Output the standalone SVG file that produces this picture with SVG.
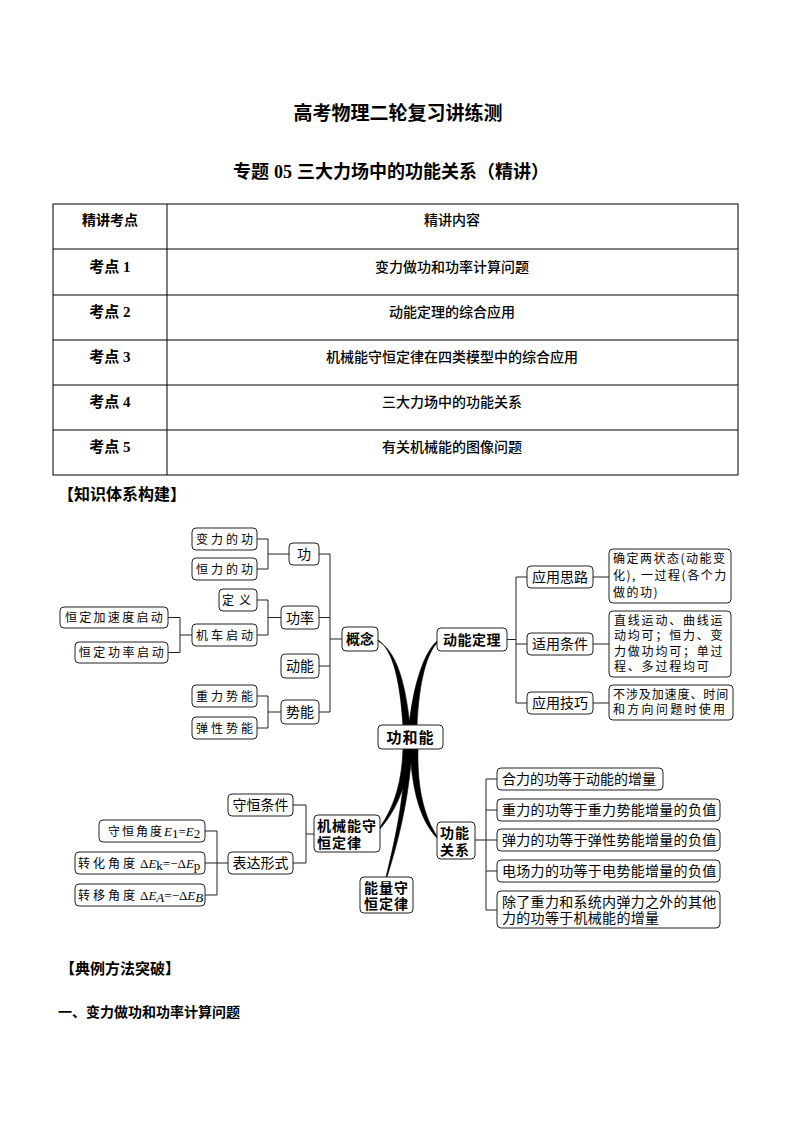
<svg xmlns="http://www.w3.org/2000/svg" width="794" height="1123" viewBox="0 0 794 1123">
<style>
.cjk{font-family:"Noto Sans CJK SC",sans-serif;fill:#000}
.ser{font-family:"Liberation Serif","Noto Sans CJK SC",serif;fill:#000}
.b{font-weight:bold}
.m{font-weight:500}
.box{fill:#fff;stroke:#222;stroke-width:1}
.ln{fill:none;stroke:#222;stroke-width:1}
.tb{fill:none;stroke:#000;stroke-width:1}
.s12{font-size:12px}
.s14{font-size:14px}
.mid{text-anchor:middle}
.sp{letter-spacing:3px}
.curve{fill:#000;stroke:#000;stroke-width:0.6}
.f{font-family:"Liberation Serif",serif;font-size:13px}
.i{font-style:italic}
</style>
<rect x="0" y="0" width="794" height="1123" fill="#fff"/>

<g id="title">
<text class="cjk b mid" x="398" y="120" font-size="19">高考物理二轮复习讲练测</text>
<text class="ser b" x="233" y="178" font-size="18">专题<tspan dx="5">05</tspan><tspan dx="5">三大力场中的功能关系（精讲）</tspan></text>
</g>

<g id="table">
<rect class="tb" x="53" y="204" width="685" height="271"/>
<line class="tb" x1="167" y1="204" x2="167" y2="475"/>
<line class="tb" x1="53" y1="249" x2="738" y2="249"/>
<line class="tb" x1="53" y1="295" x2="738" y2="295"/>
<line class="tb" x1="53" y1="340" x2="738" y2="340"/>
<line class="tb" x1="53" y1="385" x2="738" y2="385"/>
<line class="tb" x1="53" y1="430" x2="738" y2="430"/>
<text class="cjk b s14 mid" x="110" y="225">精讲考点</text>
<text class="cjk m s14 mid" x="452" y="225">精讲内容</text>
<text class="ser b mid" font-size="15" x="110" y="272">考点 1</text>
<text class="ser b mid" font-size="15" x="110" y="317">考点 2</text>
<text class="ser b mid" font-size="15" x="110" y="362">考点 3</text>
<text class="ser b mid" font-size="15" x="110" y="407">考点 4</text>
<text class="ser b mid" font-size="15" x="110" y="452">考点 5</text>
<text class="cjk m s14 mid" x="452" y="272">变力做功和功率计算问题</text>
<text class="cjk m s14 mid" x="452" y="317">动能定理的综合应用</text>
<text class="cjk m s14 mid" x="452" y="362">机械能守恒定律在四类模型中的综合应用</text>
<text class="cjk m s14 mid" x="452" y="407">三大力场中的功能关系</text>
<text class="cjk m s14 mid" x="452" y="452">有关机械能的图像问题</text>
</g>

<g id="heading1"><text class="cjk b" x="58" y="500" font-size="16">【知识体系构建】</text></g>

<g id="connectors">
<path class="ln" d="M257 539 H268 M257 569 H268 M268 539 V569 M268 554 H289"/>
<path class="ln" d="M257 600 H268 V635 H257 M268 617.5 H281"/>
<path class="ln" d="M168 617.5 H180 V652.5 H168 M180 635 H192"/>
<path class="ln" d="M257 696 H268 V728 H257 M268 712 H281"/>
<path class="ln" d="M319 554 H330 V712 H319 M319 617.5 H330 M319 666 H330 M330 639 H342"/>
<path class="ln" d="M507 639.5 H516 M516 577 V703 M516 577 H527 M516 644 H527 M516 703 H527"/>
<path class="ln" d="M593 577 H609 M593 644 H609 M593 703 H609"/>
<path class="ln" d="M293 805 H306 V863 H293 M306 834 H314"/>
<path class="ln" d="M205 831 H217 V895 H205 M205 863 H228"/>
<path class="ln" d="M475 840 H486 M486 779 V910 M486 779 H497 M486 810 H497 M486 840 H497 M486 871 H497 M486 910 H497"/>
<path class="curve" d="M378 640 C393 650 400 680 403 726 L410 726 C405 680 396 651 378 641 Z"/>
<path class="curve" d="M437 641 C425 652 414 680 409 726 L417 726 C419 680 427 654 437 643 Z"/>
<path class="curve" d="M380 827 C395 806 402 780 403 749 L410 749 C408 782 398 808 380 829 Z"/>
<path class="curve" d="M386 877 C395 840 404 800 406 749 L412 749 C409 800 398 842 387 877 Z"/>
<path class="curve" d="M437 838 C420 820 412 790 410 749 L418 749 C417 790 425 818 437 836 Z"/>
</g>

<g id="n-bianli"><rect class="box" x="192" y="528" width="65" height="22" rx="4"/><text class="cjk s12 mid sp" x="226" y="543.5">变力的功</text></g>
<g id="n-hengli"><rect class="box" x="192" y="558" width="65" height="22" rx="4"/><text class="cjk s12 mid sp" x="226" y="573.5">恒力的功</text></g>
<g id="n-gong"><rect class="box" x="289" y="543" width="30" height="22" rx="4"/><text class="cjk s14 mid" x="304" y="559">功</text></g>
<g id="n-dingyi"><rect class="box" x="219" y="589" width="38" height="22" rx="4"/><text class="cjk s12 mid" x="239" y="604.5" letter-spacing="5">定义</text></g>
<g id="n-gonglv"><rect class="box" x="281" y="606" width="38" height="23" rx="4"/><text class="cjk s14 mid" x="300" y="622.5">功率</text></g>
<g id="n-jiche"><rect class="box" x="192" y="624" width="65" height="22" rx="4"/><text class="cjk s12 mid sp" x="226" y="639.5">机车启动</text></g>
<g id="n-hengjia"><rect class="box" x="60" y="607" width="108" height="21" rx="4"/><text class="cjk s12 mid" x="115" y="622" letter-spacing="2.3">恒定加速度启动</text></g>
<g id="n-henggong"><rect class="box" x="75" y="642" width="93" height="21" rx="4"/><text class="cjk s12 mid" x="122.5" y="657" letter-spacing="2.6">恒定功率启动</text></g>
<g id="n-gainian"><rect class="box" x="342" y="627" width="36" height="24" rx="4"/><text class="cjk b s14 mid" x="360" y="644">概念</text></g>
<g id="n-dongneng"><rect class="box" x="281" y="654" width="38" height="24" rx="4"/><text class="cjk s14 mid" x="300" y="671">动能</text></g>
<g id="n-zhongli"><rect class="box" x="192" y="685" width="65" height="22" rx="4"/><text class="cjk s12 mid sp" x="226" y="700.5">重力势能</text></g>
<g id="n-shineng"><rect class="box" x="281" y="700" width="38" height="24" rx="4"/><text class="cjk s14 mid" x="300" y="717">势能</text></g>
<g id="n-tanxing"><rect class="box" x="192" y="717" width="65" height="22" rx="4"/><text class="cjk s12 mid sp" x="226" y="732.5">弹性势能</text></g>

<g id="n-dnd"><rect class="box" x="437" y="628" width="70" height="23" rx="4"/><text class="cjk b s14 mid" x="472" y="644.5" letter-spacing="0.5">动能定理</text></g>
<g id="n-silu"><rect class="box" x="527" y="566" width="66" height="22" rx="4"/><text class="cjk s14 mid" x="560" y="582">应用思路</text></g>
<g id="n-tiaojian"><rect class="box" x="527" y="633" width="66" height="22" rx="4"/><text class="cjk s14 mid" x="560" y="649">适用条件</text></g>
<g id="n-jiqiao"><rect class="box" x="527" y="692" width="66" height="22" rx="4"/><text class="cjk s14 mid" x="560" y="708">应用技巧</text></g>
<g id="n-silu-d"><rect class="box" x="609" y="549" width="122" height="54" rx="4"/>
<text class="cjk s12" letter-spacing="1.5"><tspan x="613" y="563">确定两状态(动能变</tspan><tspan x="613" y="580">化), 一过程(各个力</tspan><tspan x="613" y="597">做的功)</tspan></text></g>
<g id="n-tiaojian-d"><rect class="box" x="609" y="611" width="122" height="66" rx="4"/>
<text class="cjk s12" letter-spacing="1.8"><tspan x="614" y="625">直线运动、曲线运</tspan><tspan x="614" y="640">动均可；恒力、变</tspan><tspan x="614" y="656">力做功均可；单过</tspan><tspan x="614" y="671">程、多过程均可</tspan></text></g>
<g id="n-jiqiao-d"><rect class="box" x="609" y="685" width="124" height="35" rx="4"/>
<text class="cjk s12"><tspan x="613" y="699" letter-spacing="0.9">不涉及加速度、时间</tspan><tspan x="613" y="714" letter-spacing="2.3">和方向问题时使用</tspan></text></g>

<g id="n-center"><rect class="box" x="378" y="725" width="65" height="24" rx="4"/><text class="cjk b mid" font-size="15" x="410.5" y="742.5" letter-spacing="1">功和能</text></g>

<g id="n-jxn"><rect class="box" x="314" y="815" width="66" height="37" rx="4"/>
<text class="cjk b s14" letter-spacing="1"><tspan x="317" y="831">机械能守</tspan><tspan x="317" y="848">恒定律</tspan></text></g>
<g id="n-shtj"><rect class="box" x="228" y="794" width="65" height="22" rx="4"/><text class="cjk s14 mid" x="260.5" y="810">守恒条件</text></g>
<g id="n-bdxs"><rect class="box" x="228" y="852" width="65" height="22" rx="4"/><text class="cjk s14 mid" x="260.5" y="868">表达形式</text></g>
<g id="n-sh"><rect class="box" x="99" y="820" width="106" height="22" rx="4"/>
<text x="108" y="835.5"><tspan class="cjk s12" letter-spacing="2">守恒角度</tspan><tspan class="f i">E</tspan><tspan class="f" font-size="9" dy="2">1</tspan><tspan class="f" dy="-2">=</tspan><tspan class="f i">E</tspan><tspan class="f" font-size="9" dy="2">2</tspan></text></g>
<g id="n-zh"><rect class="box" x="75" y="852" width="130" height="22" rx="4"/>
<text x="78" y="867.5"><tspan class="cjk s12" letter-spacing="3">转化角度</tspan><tspan class="f" dx="2">Δ</tspan><tspan class="f i">E</tspan><tspan class="f" font-size="9" dy="2">k</tspan><tspan class="f" dy="-2">=−Δ</tspan><tspan class="f i">E</tspan><tspan class="f" font-size="9" dy="2">p</tspan></text></g>
<g id="n-zy"><rect class="box" x="75" y="884" width="130" height="22" rx="4"/>
<text x="78" y="899.5"><tspan class="cjk s12" letter-spacing="3">转移角度</tspan><tspan class="f" dx="2">Δ</tspan><tspan class="f i">E</tspan><tspan class="f i" font-size="9" dy="2">A</tspan><tspan class="f" dy="-2">=−Δ</tspan><tspan class="f i">E</tspan><tspan class="f i" font-size="9" dy="2">B</tspan></text></g>
<g id="n-nlsh"><rect class="box" x="360" y="877" width="53" height="36" rx="4"/>
<text class="cjk b s14" letter-spacing="1"><tspan x="364" y="893">能量守</tspan><tspan x="364" y="909">恒定律</tspan></text></g>

<g id="n-gngx"><rect class="box" x="437" y="822" width="38" height="37" rx="4"/>
<text class="cjk b s14" letter-spacing="1"><tspan x="440" y="838">功能</tspan><tspan x="440" y="855">关系</tspan></text></g>
<g id="n-r1"><rect class="box" x="497" y="768" width="166" height="22" rx="4"/><text class="cjk s14" x="502" y="784">合力的功等于动能的增量</text></g>
<g id="n-r2"><rect class="box" x="497" y="799" width="223" height="22" rx="4"/><text class="cjk s14" x="502" y="815" letter-spacing="0.3">重力的功等于重力势能增量的负值</text></g>
<g id="n-r3"><rect class="box" x="497" y="829" width="223" height="22" rx="4"/><text class="cjk s14" x="502" y="845" letter-spacing="0.3">弹力的功等于弹性势能增量的负值</text></g>
<g id="n-r4"><rect class="box" x="497" y="860" width="223" height="22" rx="4"/><text class="cjk s14" x="502" y="876" letter-spacing="0.3">电场力的功等于电势能增量的负值</text></g>
<g id="n-r5"><rect class="box" x="497" y="891" width="223" height="37" rx="4"/>
<text class="cjk s14" letter-spacing="0.3"><tspan x="502" y="907">除了重力和系统内弹力之外的其他</tspan><tspan x="502" y="923">力的功等于机械能的增量</tspan></text></g>

<g id="heading2">
<text class="cjk b" x="60" y="974" font-size="15">【典例方法突破】</text>
<text class="cjk b s14" x="58" y="1017">一、变力做功和功率计算问题</text>
</g>
</svg>
